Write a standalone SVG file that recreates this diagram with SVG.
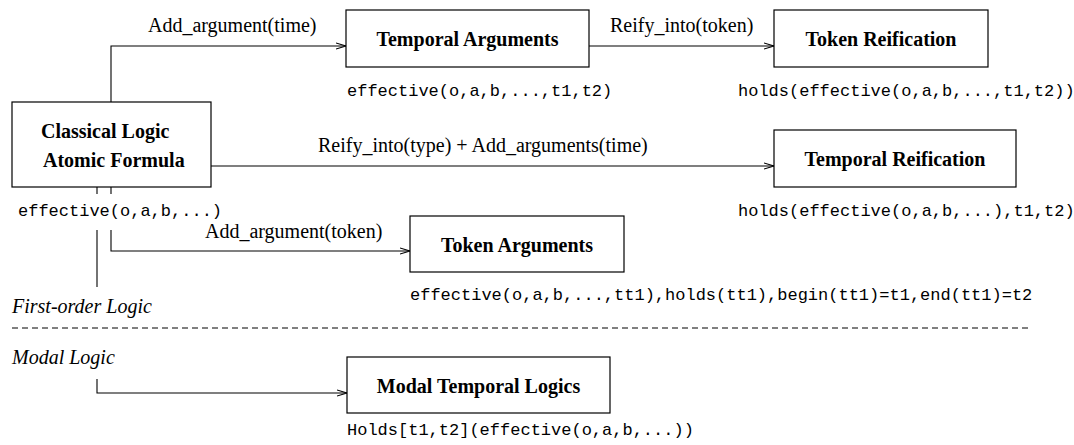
<svg xmlns="http://www.w3.org/2000/svg" width="1074" height="445" viewBox="0 0 1074 445">
  <style>
    .box { fill: #fff; stroke: #000; stroke-width: 1.2; }
    .title { font-family: "Liberation Serif", "Times New Roman", serif; font-size: 20px; font-weight: bold; fill: #000; }
    .lbl { font-family: "Liberation Serif", "Times New Roman", serif; font-size: 20px; fill: #000; }
    .ital { font-family: "Liberation Serif", "Times New Roman", serif; font-size: 20px; font-style: italic; fill: #000; }
    .mono { font-family: "Liberation Mono", "Courier New", monospace; font-size: 17px; fill: #000; }
    .edge { fill: none; stroke: #000; stroke-width: 1.1; }
  </style>
  <defs>
    <marker id="arrow" markerUnits="userSpaceOnUse" markerWidth="12" markerHeight="8" refX="10" refY="4" orient="auto">
      <path d="M0,1 L10,4 L0,7" fill="none" stroke="#000" stroke-width="1.1"/>
    </marker>
  </defs>
  <rect width="1074" height="445" fill="#fff"/>

  <!-- connectors -->
  <g id="connectors">
    <path class="edge" d="M111 102 V46 H346" marker-end="url(#arrow)"/>
    <path class="edge" d="M589 46 H774" marker-end="url(#arrow)"/>
    <path class="edge" d="M211 166 H774" marker-end="url(#arrow)"/>
    <path class="edge" d="M97 187 V194 M111 187 V194"/>
    <path class="edge" d="M111 230 V251 H410" marker-end="url(#arrow)"/>
    <path class="edge" d="M97 230 V287"/>
    <path class="edge" d="M97 379 V393 H347" marker-end="url(#arrow)"/>
    <text class="lbl" x="148" y="32">Add_argument(time)</text>
    <text class="lbl" x="610" y="32">Reify_into(token)</text>
    <text class="lbl" x="318" y="152">Reify_into(type) + Add_arguments(time)</text>
    <text class="lbl" x="205" y="238">Add_argument(token)</text>
  </g>

  <!-- logic boundary -->
  <g id="boundary">
    <text class="ital" x="12" y="313">First-order Logic</text>
    <line x1="12" y1="328" x2="1030" y2="328" stroke="#000" stroke-width="1" stroke-dasharray="6 4"/>
    <text class="ital" x="12" y="364">Modal Logic</text>
  </g>

  <g id="classical">
    <rect class="box" x="12" y="102" width="199" height="85"/>
    <text class="title" x="41" y="138">Classical Logic</text>
    <text class="title" x="43" y="167">Atomic Formula</text>
    <text class="mono" x="18" y="216">effective(o,a,b,...)</text>
  </g>

  <g id="temporal-arguments">
    <rect class="box" x="346" y="10" width="243" height="57"/>
    <text class="title" x="467.5" y="46" text-anchor="middle">Temporal Arguments</text>
    <text class="mono" x="347" y="96">effective(o,a,b,...,t1,t2)</text>
  </g>

  <g id="token-reification">
    <rect class="box" x="774" y="10" width="214" height="57"/>
    <text class="title" x="881" y="46" text-anchor="middle">Token Reification</text>
    <text class="mono" x="738" y="96">holds(effective(o,a,b,...,t1,t2))</text>
  </g>

  <g id="temporal-reification">
    <rect class="box" x="774" y="130" width="242" height="57"/>
    <text class="title" x="895" y="166" text-anchor="middle">Temporal Reification</text>
    <text class="mono" x="738" y="216">holds(effective(o,a,b,...),t1,t2)</text>
  </g>

  <g id="token-arguments">
    <rect class="box" x="410" y="216" width="214" height="56"/>
    <text class="title" x="517" y="252" text-anchor="middle">Token Arguments</text>
    <text class="mono" x="410" y="300">effective(o,a,b,...,tt1),holds(tt1),begin(tt1)=t1,end(tt1)=t2</text>
  </g>

  <g id="modal-temporal-logics">
    <rect class="box" x="347" y="357" width="263" height="56"/>
    <text class="title" x="478.5" y="393" text-anchor="middle">Modal Temporal Logics</text>
    <text class="mono" x="347" y="435">Holds[t1,t2](effective(o,a,b,...))</text>
  </g>
</svg>
